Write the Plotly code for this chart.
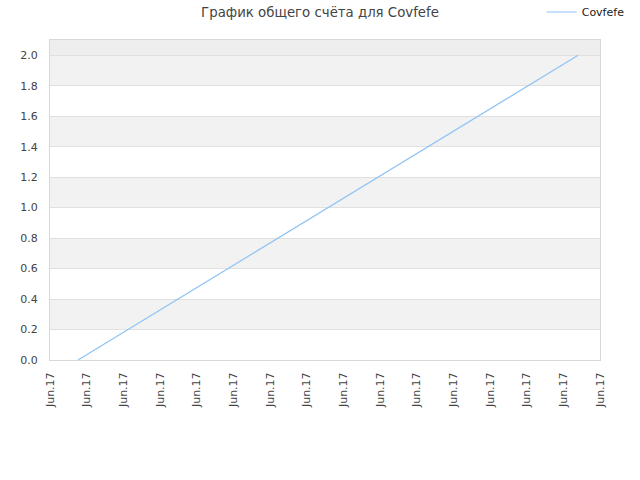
import plotly.graph_objects as go

# data
times = ["2017-06-01 18:20", "2017-06-15 09:40"]
score = [0, 2]
series_name = "Covfefe"
title = "График общего счёта для Covfefe"

fig = go.Figure()

fig.add_trace(
    go.Scatter(
        x=times,
        y=score,
        mode="lines",
        name=series_name,
        line=dict(color="#8fc3f5", width=1.2),
    ))

# alternating horizontal bands
shapes = []
for i in range(10):
    lo = i * 0.2
    shapes.append(dict(
        type="rect", xref="paper", yref="y", x0=0, x1=1, y0=lo, y1=lo + 0.2,
        fillcolor="#f2f2f2" if i % 2 == 1 else "#ffffff",
        line=dict(width=0), layer="below"))
shapes.append(dict(
    type="rect", xref="paper", yref="y", x0=0, x1=1, y0=2.0, y1=2.1,
    fillcolor="#eeeeee", line=dict(width=0), layer="below"))

fig.update_layout(
    width=640, height=480,
    margin=dict(l=50, r=40, t=40, b=120, autoexpand=False),
    paper_bgcolor="white",
    plot_bgcolor="white",
    font=dict(family="DejaVu Sans", size=11, color="#444"),
    title=dict(text=title, x=0.5, xanchor="center", y=0.985, yanchor="top",
               font=dict(size=13.3, color="#444")),
    showlegend=True,
    legend=dict(x=1.054, xanchor="right", y=1.0875, yanchor="middle",
                bgcolor="rgba(0,0,0,0)", font=dict(size=11, color="#222")),
    shapes=shapes,
    xaxis=dict(
        type="date",
        range=["2017-06-01", "2017-06-16"],
        dtick=86400000,
        tick0="2017-06-01",
        tickformat="%b.%y",
        tickangle=-90,
        showgrid=False,
        showline=True, linecolor="#d8d8d8", mirror=True,
        ticks="", zeroline=False, automargin=False,
        ticklabelstandoff=7,
        tickfont=dict(size=11, color="#444"),
    ),
    yaxis=dict(
        range=[0, 2.1],
        dtick=0.2,
        tickformat=".1f",
        showgrid=True, gridcolor="#e0e0e0",
        showline=True, linecolor="#d8d8d8", mirror=True,
        zeroline=False, ticks="", automargin=False,
        ticklabelstandoff=9,
        tickfont=dict(size=11, color="#444"),
    ),
)

fig.write_html("out.html", config={"displayModeBar": False},
               post_script="document.body.style.margin='0';")
